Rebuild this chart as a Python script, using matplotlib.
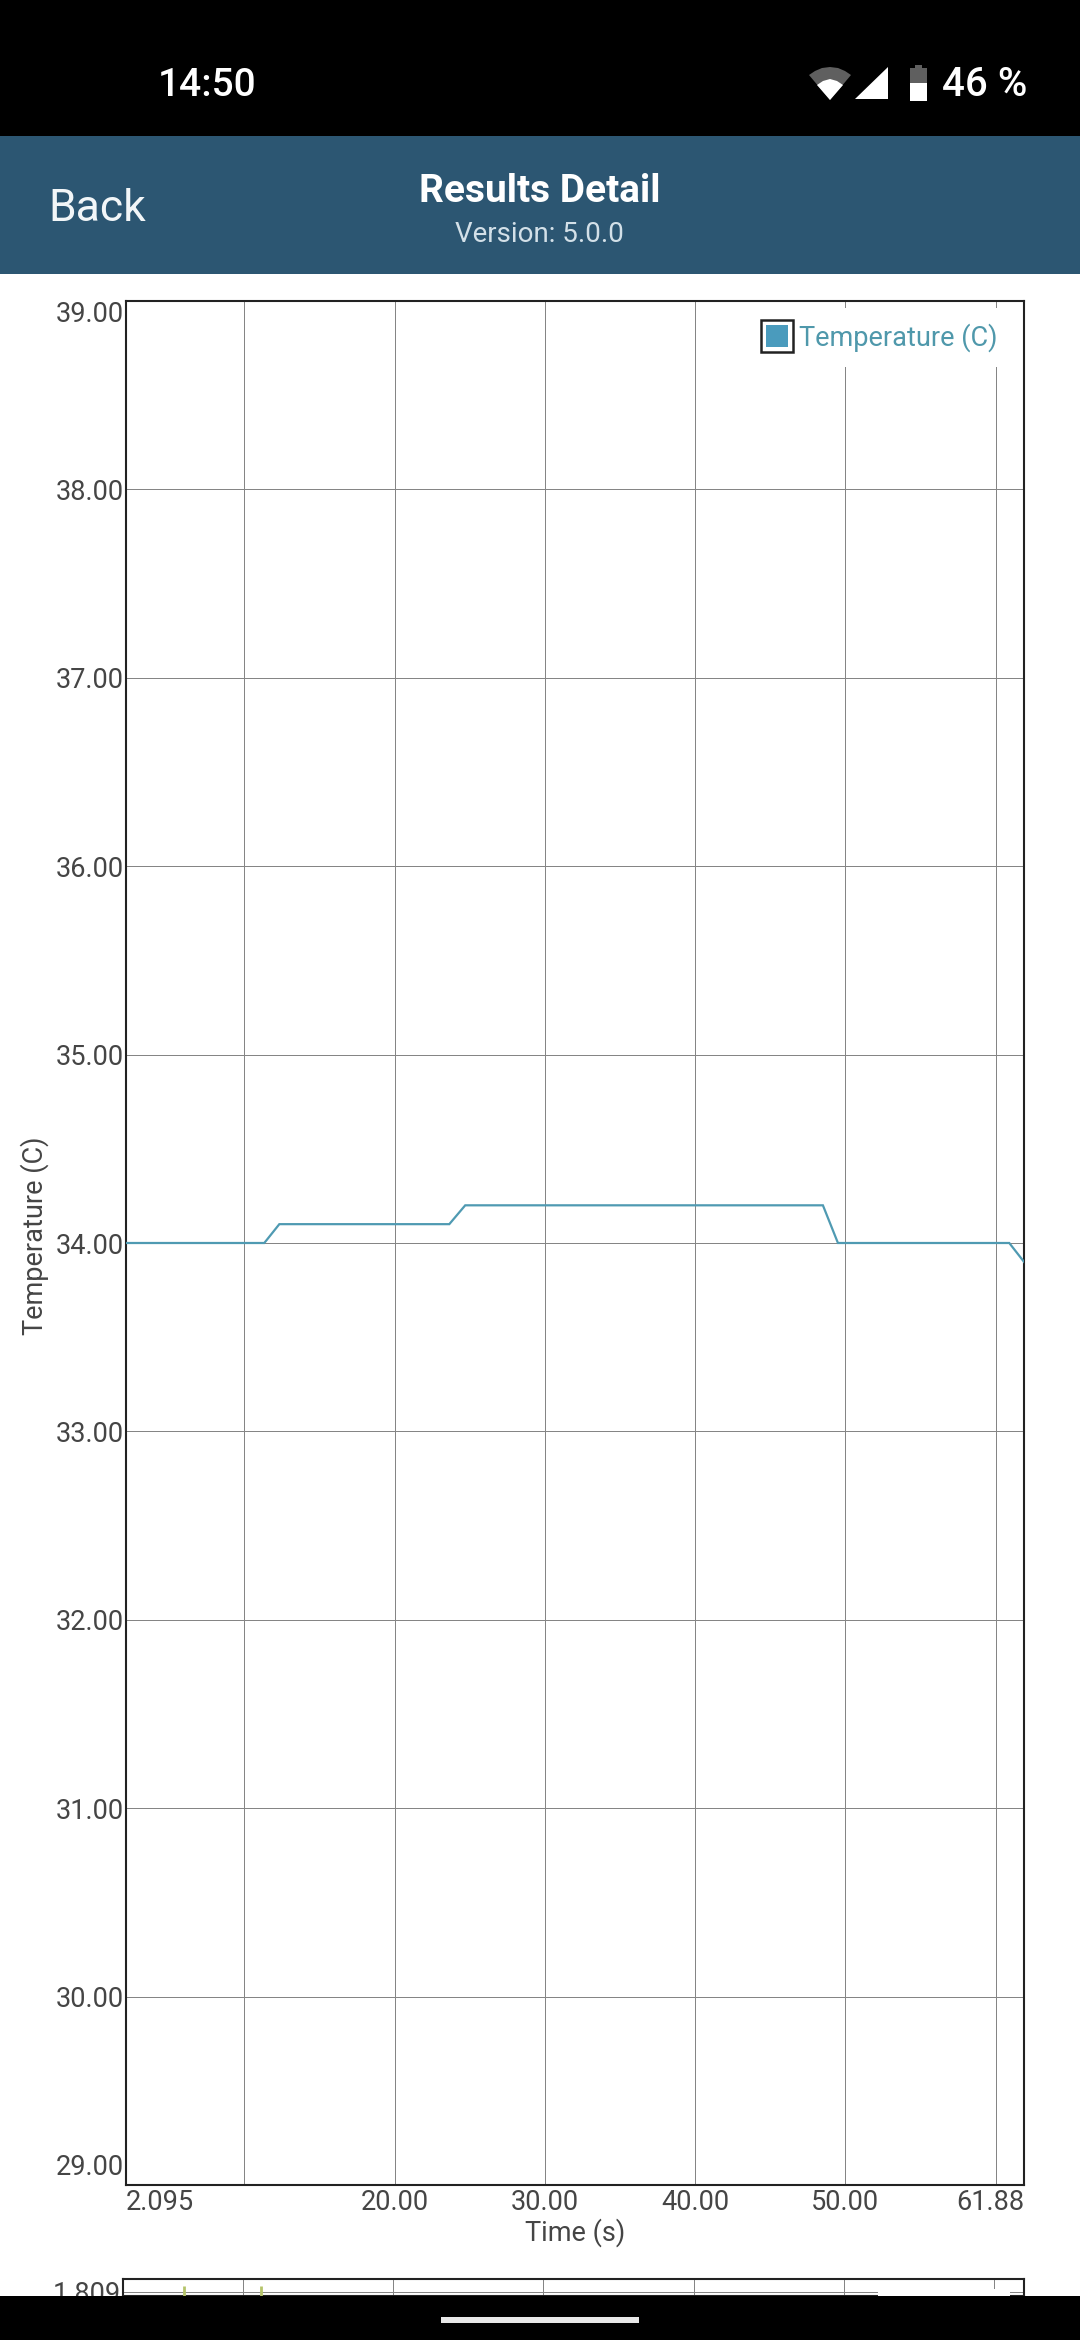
import matplotlib
matplotlib.use("Agg")
import matplotlib.pyplot as plt
from matplotlib.patches import Rectangle, Polygon
from matplotlib.legend_handler import HandlerBase
from matplotlib.transforms import ScaledTranslation

# ---- data ----
time_s = [2.095, 11.33, 12.33, 23.64, 24.70, 48.50, 49.50, 60.90, 61.88]
temperature_c = [34.0, 34.0, 34.1, 34.1, 34.2, 34.2, 34.0, 34.0, 33.9]
y_ticks = [29, 30, 31, 32, 33, 34, 35, 36, 37, 38, 39]
y_tick_labels = ["29.00", "30.00", "31.00", "32.00", "33.00", "34.00", "35.00", "36.00", "37.00", "38.00", "39.00"]
x_ticks = [2.095, 10, 20, 30, 40, 50, 60, 61.88]
x_tick_labels = ["2.095", "", "20.00", "30.00", "40.00", "50.00", "", "61.88"]
lower_spike_times = [6.1, 11.2]
lower_spike_tops = [1.8103, 1.8103]
lower_y_ticks = [1.809]
lower_y_tick_labels = ["1.809"]

FONT = ["Roboto", "DejaVu Sans"]
plt.rcParams["font.family"] = FONT
W, H = 1080, 2340
TXT = "#454545"
GRID = "#858585"
EDGE = "#222222"
LINE = "#4f9ab2"
BLUE = "#4a9bbd"
LEG_TXT = "#4f98ab"
HEAD = "#2c5672"

fig = plt.figure(figsize=(W / 100, H / 100), dpi=100, facecolor="white")

def axes_px(l, t, r, b, **kw):
    return fig.add_axes([l / W, 1 - b / H, (r - l) / W, (b - t) / H], **kw)

# chrome layer (below the charts)
bg = axes_px(0, 0, W, H, zorder=0)
bg.set_xlim(0, W); bg.set_ylim(H, 0); bg.axis("off")
bg.add_patch(Rectangle((0, 0), W, 136, fc="black", ec="none"))
bg.add_patch(Rectangle((0, 136), W, 138, fc=HEAD, ec="none"))
bg.text(158, 85, "14:50", color="white", fontsize=28, fontweight="medium", va="center", ha="left")
bg.text(1027, 85, "46 %", color="white", fontsize=29, fontweight="medium", va="center", ha="right")
bg.text(48, 209, "Back", color="#f2f6f8", fontsize=32, va="center", ha="left")
bg.text(540, 191, "Results Detail", color="white", fontsize=28, fontweight="bold", va="center", ha="center")
bg.text(539, 234, "Version: 5.0.0", color="#d3e0e8", fontsize=20, va="center", ha="center")
# status icons
bg.add_patch(Polygon([(809, 75), (815, 71), (822, 68), (830, 67), (838, 68), (845, 71), (851, 75), (830, 100)], fc="#5f5f5f", ec="none"))
bg.add_patch(Polygon([(817, 85), (823, 81), (830, 79), (837, 81), (843, 85), (830, 100)], fc="white", ec="none"))
bg.add_patch(Polygon([(855, 99), (888, 67), (888, 99)], fc="white", ec="none"))
bg.add_patch(Rectangle((915, 65), 7, 4, fc="#5f5f5f", ec="none"))
bg.add_patch(Rectangle((910, 68), 17, 15, fc="#5f5f5f", ec="none"))
bg.add_patch(Rectangle((910, 83), 17, 18, fc="white", ec="none"))

# main chart
ax = axes_px(125.5, 301, 1024, 2185, zorder=2)
ax.plot(time_s, temperature_c, color=LINE, lw=1.6, solid_joinstyle="miter", zorder=3)
ax.set_xlim(2.095, 61.88)
ax.set_ylim(29, 39)
ax.set_yticks(y_ticks, y_tick_labels)
ax.set_xticks(x_ticks, x_tick_labels)
ax.grid(True, color=GRID, lw=0.72)
ax.set_axisbelow(True)
ax.tick_params(axis="both", length=0, labelsize=19.5, labelcolor=TXT)
ax.tick_params(axis="y", pad=1.5)
ax.tick_params(axis="x", pad=3)
for lab, v in zip(ax.get_yticklabels(), y_ticks):
    lab.set_verticalalignment("top" if v == 39 else "bottom" if v == 29 else "center_baseline")
    if v == 29:
        lab.set_transform(lab.get_transform() + ScaledTranslation(0, 4 / 100, fig.dpi_scale_trans))
xl = ax.get_xticklabels()
xl[0].set_horizontalalignment("left")
xl[-1].set_horizontalalignment("right")
for s in ax.spines.values():
    s.set_color(EDGE); s.set_linewidth(1.5)
ax.set_xlabel("Time (s)", fontsize=19.5, color=TXT, va="center")
ax.xaxis.set_label_coords(0.5, -(2233 - 2185) / 1884)
ax.set_ylabel("Temperature (C)", fontsize=19.5, color=TXT, va="center")
ax.yaxis.set_label_coords((34.5 - 125.5) / 898.5, 0.504)

class BoxHandler(HandlerBase):
    def create_artists(self, legend, orig, xd, yd, w, h, fs, trans):
        s = 32 * 0.72
        x0 = -xd + 6 * 0.72; y0 = -yd + (h - s) / 2
        outer = Rectangle((x0, y0), s, s, fc="white", ec=EDGE, lw=1.8, transform=trans)
        m = 5 * 0.72
        inner = Rectangle((x0 + m, y0 + m), s - 2 * m, s - 2 * m, fc=BLUE, ec="none", transform=trans)
        return [outer, inner]

handle = Rectangle((0, 0), 1, 1, label="Temperature (C)")
leg = ax.legend(handles=[handle], handler_map={Rectangle: BoxHandler()}, loc="upper right",
                bbox_to_anchor=((1012 - 125.5) / 898.5, 1 - 7 / 1884), frameon=True, fancybox=False,
                framealpha=1, facecolor="white", edgecolor="none", fontsize=19.5, labelcolor=LEG_TXT,
                handlelength=1.2, handletextpad=0.4, borderpad=0.55, borderaxespad=0)
leg.set_zorder(5)

# lower chart, cut off by the navigation bar
ax2 = axes_px(122.7, 2279, 1024, 2296, zorder=1)
ax2.set_xlim(2.0, 62.0)
ax2.set_ylim(1.808, 1.812)
ax2.vlines(lower_spike_times, 1.808, lower_spike_tops, color="#b5c46a", lw=2, zorder=3)
ax2.set_xticks([10, 20, 30, 40, 50, 60], [""] * 6)
ax2.set_yticks(lower_y_ticks, lower_y_tick_labels)
ax2.grid(True, color=GRID, lw=0.72)
ax2.set_axisbelow(True)
ax2.tick_params(axis="both", length=0, labelsize=19.5, labelcolor=TXT, pad=1)
for s in ax2.spines.values():
    s.set_color(EDGE); s.set_linewidth(1.5)
for lab in ax2.get_yticklabels():
    lab.set_clip_on(False)
# legend gap of the lower chart
fg0 = axes_px(878, 2289, 1010, 2296, zorder=1.5)
fg0.axis("off")
fg0.add_patch(Rectangle((0, 0), 1, 1, fc="white", ec="none", transform=fg0.transAxes))

# navigation bar (above everything)
fg = axes_px(0, 2296, W, H, zorder=10)
fg.set_xlim(0, W); fg.set_ylim(H, 2296); fg.axis("off")
fg.add_patch(Rectangle((0, 2296), W, 44, fc="black", ec="none"))
fg.add_patch(Rectangle((441, 2317), 198, 6, fc="#e8e8e8", ec="none"))

fig.savefig("out.png", dpi=100)
